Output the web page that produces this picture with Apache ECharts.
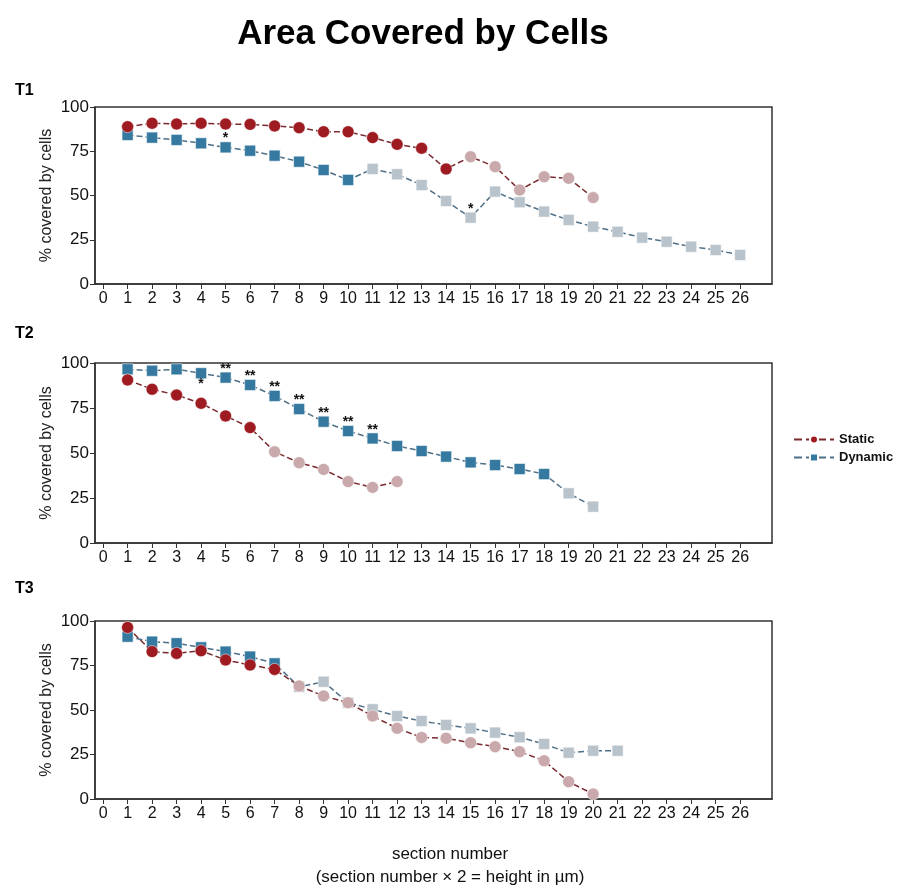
<!DOCTYPE html>
<html>
<head>
<meta charset="utf-8">
<script src="https://cdn.jsdelivr.net/npm/echarts@6/dist/echarts.min.js"></script>
<style>
  html, body { margin: 0; padding: 0; background: #fff; }
  #chart { width: 904px; height: 885px; }
</style>
</head>
<body>
<div id="chart"></div>
<script>
// x ticks shown on every panel
var sectionTicks = [0, 1, 2, 3, 4, 5, 6, 7, 8, 9, 10, 11, 12, 13, 14, 15, 16, 17, 18, 19, 20, 21, 22, 23, 24, 25, 26];

// T1
var t1Static = [88.9, 90.8, 90.4, 90.8, 90.4, 90.2, 89.3, 88.3, 86.0, 86.0, 82.7, 78.9, 76.7, 65.0, 71.9, 66.3, 53.1, 60.6, 59.7, 48.8];
var t1Dynamic = [84.2, 82.7, 81.4, 79.5, 77.2, 75.3, 72.5, 69.1, 64.4, 58.8, 65.0, 62.0, 55.9, 46.9, 37.5, 52.2, 46.2, 40.9, 36.2, 32.4, 29.5, 26.2, 23.9, 21.1, 19.2, 16.4];
var t1Sig = ['', '', '', '', '*', '', '', '', '', '', '', '', '', '', '*'];

// T2
var t2Static = [90.6, 85.4, 82.2, 77.6, 70.6, 64.1, 50.7, 44.6, 40.9, 34.1, 30.9, 34.1];
var t2Dynamic = [96.5, 95.7, 96.5, 94.3, 91.9, 87.8, 81.7, 74.4, 67.4, 62.2, 58.1, 53.9, 51.1, 48.0, 44.8, 43.3, 41.1, 38.3, 27.6, 20.2];
var t2Sig = ['', '', '', '*', '**', '**', '**', '**', '**', '**', '**'];

// T3
var t3Static = [96.4, 82.8, 81.8, 83.3, 78.1, 75.3, 72.8, 63.5, 57.9, 54.1, 46.6, 39.7, 34.6, 34.1, 31.6, 29.4, 26.6, 21.5, 9.7, 2.8];
var t3Dynamic = [91.2, 88.4, 87.5, 85.2, 82.8, 80.0, 76.2, 63.0, 65.9, 54.1, 50.4, 46.6, 43.8, 41.6, 39.7, 37.3, 34.7, 30.9, 26.0, 27.1, 27.1];
var t3Sig = [];

var FONT = '"Liberation Sans", Arial, sans-serif';
var RED = '#9e1b22', RED_FADE = '#c9a9ab', RED_LINE = '#7a2a2e';
var BLUE = '#3579a0', BLUE_FADE = '#b9c3cb', BLUE_LINE = '#4f6f86';

function pairs(arr) {
  return arr.map(function (v, i) { return [i + 1, v]; });
}

function sigData(arr, sig, belowIdx) {
  return arr.map(function (v, i) {
    var item = { value: [i + 1, v] };
    if (sig[i]) {
      var below = belowIdx.indexOf(i + 1) >= 0;
      item.label = {
        show: true,
        formatter: sig[i],
        position: below ? 'bottom' : 'top',
        distance: below ? -2 : -4,
        color: '#111',
        fontWeight: 'bold',
        fontSize: 14,
        fontFamily: FONT
      };
    }
    return item;
  });
}

var panels = [
  { top: 107, height: 177, st: t1Static, dy: t1Dynamic, sig: t1Sig, below: [], solidS: 14, solidD: 10 },
  { top: 363, height: 180, st: t2Static, dy: t2Dynamic, sig: t2Sig, below: [4], solidS: 6, solidD: 18 },
  { top: 621, height: 178, st: t3Static, dy: t3Dynamic, sig: t3Sig, below: [], solidS: 7, solidD: 7 }
];

var grids = [], xAxes = [], yAxes = [], series = [];
panels.forEach(function (p, k) {
  grids.push({ left: 95, width: 677, top: p.top, height: p.height, show: true, borderColor: '#333', borderWidth: 1.5, backgroundColor: '#fff' });
  xAxes.push({
    type: 'value', gridIndex: k, min: -0.33, max: 27.3,
    axisLine: { show: true, onZero: false, lineStyle: { color: '#333', width: 1.5 } },
    axisTick: { show: true, customValues: sectionTicks, length: 5, lineStyle: { color: '#333' } },
    axisLabel: { customValues: sectionTicks, color: '#111', fontSize: 16, fontFamily: FONT, margin: 7 },
    splitLine: { show: false }
  });
  yAxes.push({
    type: 'value', gridIndex: k, min: 0, max: 100, interval: 25,
    name: '% covered by cells', nameLocation: 'middle', nameGap: 40, nameRotate: 90, nameMoveOverlap: false,
    nameTextStyle: { color: '#222', fontSize: 16, fontFamily: FONT },
    axisLine: { show: true, onZero: false, lineStyle: { color: '#333', width: 1.5 } },
    axisTick: { show: true, length: 5, lineStyle: { color: '#333' } },
    axisLabel: { color: '#111', fontSize: 17, fontFamily: FONT, margin: 6 },
    splitLine: { show: false }
  });
  series.push({
    name: 'Static', type: 'line', xAxisIndex: k, yAxisIndex: k,
    data: pairs(p.st), symbol: 'circle', symbolSize: 12, z: 3,
    lineStyle: { type: 'dashed', width: 1.5, color: RED_LINE },
    itemStyle: {
      color: function (d) { return d.dataIndex < p.solidS ? RED : RED_FADE; },
      borderColor: '#fff', borderWidth: 0.5
    },
    emphasis: { disabled: true }
  });
  series.push({
    name: 'Dynamic', type: 'line', xAxisIndex: k, yAxisIndex: k,
    data: sigData(p.dy, p.sig, p.below), symbol: 'rect', symbolSize: 11, z: 2,
    lineStyle: { type: 'dashed', width: 1.5, color: BLUE_LINE },
    itemStyle: {
      color: function (d) { return d.dataIndex < p.solidD ? BLUE : BLUE_FADE; },
      borderColor: '#fff', borderWidth: 0.5
    },
    emphasis: { disabled: true }
  });
});

var chart = echarts.init(document.getElementById('chart'));
chart.setOption({
  animation: false,
  backgroundColor: '#fff',
  textStyle: { fontFamily: FONT },
  title: [
    { text: 'Area Covered by Cells', left: 418, top: 12, textAlign: 'center', textStyle: { fontSize: 35, fontWeight: 'bold', color: '#000', fontFamily: FONT } },
    { text: 'T1', left: 10, top: 78, textStyle: { fontSize: 16, fontWeight: 'bold', color: '#000', fontFamily: FONT } },
    { text: 'T2', left: 10, top: 321, textStyle: { fontSize: 16, fontWeight: 'bold', color: '#000', fontFamily: FONT } },
    { text: 'T3', left: 10, top: 576, textStyle: { fontSize: 16, fontWeight: 'bold', color: '#000', fontFamily: FONT } },
    { text: 'section number', left: 445, top: 841, textAlign: 'center', textStyle: { fontSize: 17, fontWeight: 'normal', color: '#111', fontFamily: FONT } },
    { text: '(section number \u00d7 2 = height in \u00b5m)', left: 445, top: 864, textAlign: 'center', textStyle: { fontSize: 17, fontWeight: 'normal', color: '#111', fontFamily: FONT } }
  ],
  legend: {
    orient: 'vertical', left: 788, top: 428, itemGap: 5, itemWidth: 40, itemHeight: 10,
    textStyle: { fontSize: 13, fontWeight: 'bold', color: '#111', fontFamily: FONT },
    data: [
      { name: 'Static', itemStyle: { color: RED }, lineStyle: { color: RED_LINE, type: 'dashed' } },
      { name: 'Dynamic', itemStyle: { color: BLUE }, lineStyle: { color: BLUE_LINE, type: 'dashed' } }
    ]
  },
  grid: grids,
  xAxis: xAxes,
  yAxis: yAxes,
  series: series
});
</script>
</body>
</html>
